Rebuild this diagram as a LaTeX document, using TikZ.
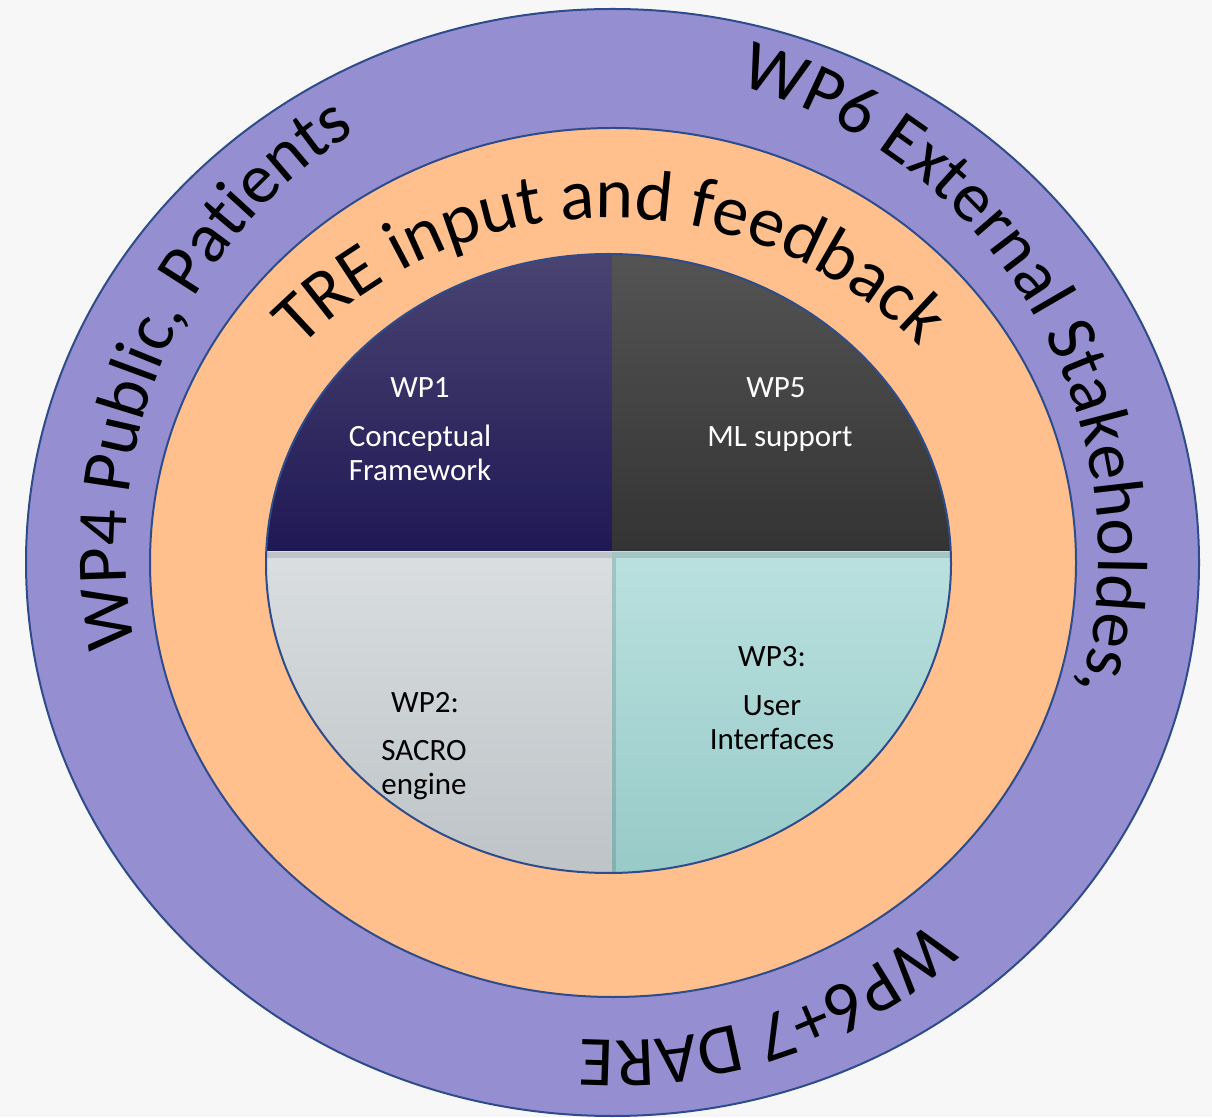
\documentclass[tikz,border=0pt]{standalone}
\usepackage{fontspec}
\setmainfont{Carlito}
\usetikzlibrary{decorations.text}
\definecolor{bg}{HTML}{F7F7F7}
\definecolor{ringpurple}{HTML}{958FD2}
\definecolor{ringorange}{HTML}{FFC08E}
\definecolor{edge}{HTML}{2E4B8B}
\definecolor{aTop}{HTML}{4A4472}
\definecolor{aMid}{HTML}{231D5B}
\definecolor{aBot}{HTML}{1F1855}
\definecolor{bTop}{HTML}{545454}
\definecolor{bMid}{HTML}{3A3A3A}
\definecolor{bBot}{HTML}{333333}
\definecolor{cTop}{HTML}{DADEE1}
\definecolor{cBot}{HTML}{BDC3C6}
\definecolor{dTop}{HTML}{BAE1DF}
\definecolor{dBot}{HTML}{97CAC8}
\begin{document}
\begin{tikzpicture}[x=1pt,y=1pt,
  ringline/.style={draw=edge, line width=2pt},
  pietext/.style={font=\fontsize{31}{34}\selectfont, anchor=base, inner sep=0pt}]
\useasboundingbox (0,0) rectangle (1212,1117);
\fill[bg] (0,0) rectangle (1212,1117);
\coordinate (C) at (612.5,554.5);
\coordinate (P) at (608.5,553.5);
\coordinate (T) at (610,464);
\coordinate (L) at (618.5,568);
\coordinate (R) at (609.6,559.5);
\coordinate (B) at (612.5,561.5);
\begin{scope}
\clip (0,0) rectangle (1212,1117);
% outer ring
\filldraw[fill=ringpurple, ringline] (C) ellipse[x radius=586.5, y radius=553.5];
% orange ring
\filldraw[fill=ringorange, ringline] (613,554.5) ellipse[x radius=463, y radius=434.5];
% pie quadrants
\begin{scope}
\clip (P) ellipse[x radius=342.5, y radius=309.5];
\shade[top color=aTop, middle color=aMid, bottom color=aBot] (264,565) rectangle (612,865);
\shade[top color=bTop, middle color=bMid, bottom color=bBot] (612,565) rectangle (953,865);
\shade[top color=cTop, bottom color=cBot] (264,242) rectangle (612,565);
\shade[top color=dTop, bottom color=dBot] (612,242) rectangle (953,565);
\fill[black, opacity=0.12] (264,559) rectangle (953,565);
\fill[black, opacity=0.12] (612,242) rectangle (616,559);
\end{scope}
\draw[ringline] (P) ellipse[x radius=342.5, y radius=309.5];
\end{scope}
% curved texts
\path[decorate, decoration={text along path, text align=center,
  text={|\fontsize{72}{86}\selectfont|TRE input and feedback}}]
  (T) ++(145:435) arc[start angle=145, end angle=35, radius=435];
\path[decorate, decoration={text along path, text align=center,
  text={|\fontsize{71}{85}\selectfont|WP4 Public, Patients}}]
  (L) ++(201.8:493) arc[start angle=201.8, end angle=111.8, radius=493];
\path[decorate, decoration={text along path, text align=center,
  text={|\fontsize{71}{85}\selectfont|WP6 External Stakeholdes,}}]
  (R) ++(95:489) arc[start angle=95, end angle=-36, radius=489];
\path[decorate, decoration={text along path, text align=center,
  text={|\fontsize{71}{85}\selectfont|WP6+7 DARE}}]
  (B) ++(-39.3:485) arc[start angle=-39.3, end angle=-103.3, radius=485];
% pie texts
\node[pietext, white] (wp1) at (420,719) {WP1};
\node[pietext, white] (wp1b) at (420,670) {Conceptual};
\node[pietext, white] (wp1c) at (420,636) {Framework};
\node[pietext, white] (wp5) at (776,719) {WP5};
\node[pietext, white] (wp5b) at (780,670) {ML support};
\node[pietext, black] (wp2) at (425,404) {WP2:};
\node[pietext, black] (wp2b) at (424,356) {SACRO};
\node[pietext, black] (wp2c) at (424,323) {engine};
\node[pietext, black] (wp3) at (772,450) {WP3:};
\node[pietext, black] (wp3b) at (772,401) {User};
\node[pietext, black] (wp3c) at (772,367) {Interfaces};
\end{tikzpicture}
\end{document}
